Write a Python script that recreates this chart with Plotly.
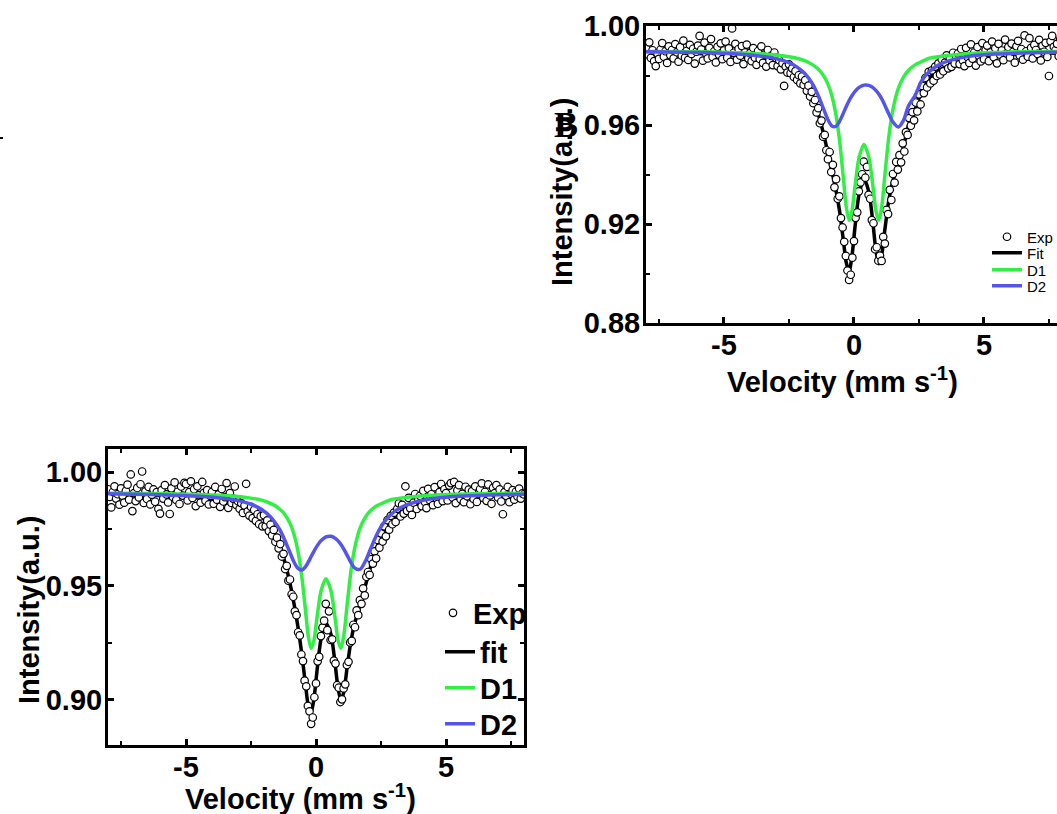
import plotly.graph_objects as go

# ---------------- data ----------------
# velocity channels (mm/s), one every 1/16 mm/s from -8 to 8
VELOCITY = [i / 16 - 8 for i in range(257)]

TOP_EXP = [
    0.9912, 0.9885, 0.9934, 0.9871, 0.9902, 0.9858, 0.9838, 0.9890, 0.9867, 0.9905, 0.9931, 0.9876, 0.9898, 0.9851, 0.9918, 0.9882,
    0.9903, 0.9869, 0.9927, 0.9894, 0.9856, 0.9915, 0.9880, 0.9941, 0.9872, 0.9899, 0.9863, 0.9924, 0.9887, 0.9908, 0.9848, 0.9896,
    0.9921, 0.9960, 0.9905, 0.9860, 0.9933, 0.9889, 0.9869, 0.9912, 0.9947, 0.9875, 0.9898, 0.9853, 0.9916, 0.9884, 0.9930, 0.9866,
    0.9901, 0.9937, 0.9872, 0.9910, 0.9855, 0.9990, 0.9892, 0.9928, 0.9864, 0.9907, 0.9880, 0.9919, 0.9846, 0.9893, 0.9925, 0.9869,
    0.9890, 0.9858, 0.9911, 0.9872, 0.9843, 0.9899, 0.9867, 0.9918, 0.9851, 0.9884, 0.9836, 0.9903, 0.9861, 0.9879, 0.9842, 0.9893,
    0.9871, 0.9838, 0.9862, 0.9825, 0.9849, 0.9758, 0.9836, 0.9812, 0.9845, 0.9809, 0.9829, 0.9794, 0.9818, 0.9782, 0.9801, 0.9768,
    0.9796, 0.9762, 0.9781, 0.9738, 0.9759, 0.9715, 0.9734, 0.9688, 0.9701, 0.9651, 0.9668, 0.9607, 0.9618, 0.9553, 0.9560, 0.9498,
    0.9462, 0.9491, 0.9410, 0.9439, 0.9348, 0.9381, 0.9302, 0.9312, 0.9224, 0.9186, 0.9128, 0.9071, 0.9012, 0.8974, 0.8995, 0.9064,
    0.9131, 0.9225, 0.9247, 0.9332, 0.9368, 0.9401, 0.9452, 0.9387, 0.9431, 0.9318, 0.9302, 0.9216, 0.9203, 0.9098, 0.9106, 0.9052,
    0.9072, 0.9051, 0.9148, 0.9121, 0.9257, 0.9240, 0.9338, 0.9297, 0.9402, 0.9367, 0.9451, 0.9420, 0.9478, 0.9449, 0.9526, 0.9493,
    0.9571, 0.9560, 0.9628, 0.9597, 0.9652, 0.9619, 0.9691, 0.9655, 0.9724, 0.9683, 0.9758, 0.9729, 0.9791, 0.9752, 0.9815, 0.9768,
    0.9821, 0.9779, 0.9836, 0.9798, 0.9849, 0.9804, 0.9866, 0.9817, 0.9852, 0.9881, 0.9829, 0.9870, 0.9835, 0.9892, 0.9848, 0.9874,
    0.9889, 0.9846, 0.9907, 0.9861, 0.9838, 0.9912, 0.9874, 0.9851, 0.9926, 0.9868, 0.9893, 0.9840, 0.9915, 0.9879, 0.9857, 0.9931,
    0.9866, 0.9902, 0.9921, 0.9858, 0.9893, 0.9937, 0.9874, 0.9910, 0.9849, 0.9928, 0.9884, 0.9901, 0.9862, 0.9945, 0.9889, 0.9915,
    0.9873, 0.9929, 0.9896, 0.9852, 0.9918, 0.9940, 0.9881, 0.9907, 0.9864, 0.9962, 0.9898, 0.9876, 0.9951, 0.9912, 0.9869, 0.9924,
    0.9903, 0.9887, 0.9944, 0.9861, 0.9920, 0.9896, 0.9932, 0.9875, 0.9798, 0.9938, 0.9960, 0.9916, 0.9902, 0.9928, 0.9878, 0.9947,
    0.9905,
]

BOT_EXP = [
    0.9925, 0.9891, 0.9845, 0.9913, 0.9938, 0.9884, 0.9903, 0.9857, 0.9929, 0.9896, 0.9866, 0.9918, 0.9945, 0.9879, 0.9990, 0.9829,
    0.9908, 0.9873, 0.9931, 0.9889, 0.9947, 1.0003, 0.9865, 0.9916, 0.9882, 0.9935, 0.9858, 0.9901, 0.9924, 0.9870, 0.9912, 0.9839,
    0.9818, 0.9921, 0.9884, 0.9943, 0.9902, 0.9867, 0.9816, 0.9929, 0.9891, 0.9955, 0.9878, 0.9914, 0.9860, 0.9937, 0.9897, 0.9953,
    0.9948, 0.9876, 0.9912, 0.9960, 0.9887, 0.9925, 0.9851, 0.9938, 0.9899, 0.9866, 0.9957, 0.9909, 0.9874, 0.9921, 0.9858, 0.9896,
    0.9913, 0.9861, 0.9935, 0.9879, 0.9902, 0.9847, 0.9926, 0.9871, 0.9890, 0.9952, 0.9843, 0.9908, 0.9865, 0.9884, 0.9937, 0.9856,
    0.9872, 0.9839, 0.9864, 0.9821, 0.9853, 0.9949, 0.9828, 0.9809, 0.9847, 0.9798, 0.9834, 0.9786, 0.9815, 0.9771, 0.9806, 0.9762,
    0.9811, 0.9762, 0.9788, 0.9741, 0.9769, 0.9722, 0.9746, 0.9694, 0.9712, 0.9665, 0.9684, 0.9629, 0.9641, 0.9574, 0.9588, 0.9523,
    0.9528, 0.9463, 0.9452, 0.9388, 0.9371, 0.9296, 0.9282, 0.9198, 0.9169, 0.9083, 0.9058, 0.8972, 0.8948, 0.8893, 0.8921, 0.9010,
    0.9071, 0.9168, 0.9188, 0.9279, 0.9316, 0.9347, 0.9421, 0.9305, 0.9388, 0.9262, 0.9265, 0.9171, 0.9158, 0.9063, 0.9052, 0.8989,
    0.9001, 0.9049, 0.9067, 0.9152, 0.9166, 0.9251, 0.9258, 0.9329, 0.9318, 0.9392, 0.9371, 0.9437, 0.9421, 0.9489, 0.9458, 0.9540,
    0.9561, 0.9548, 0.9617, 0.9598, 0.9652, 0.9621, 0.9702, 0.9668, 0.9731, 0.9695, 0.9762, 0.9718, 0.9789, 0.9747, 0.9808, 0.9771,
    0.9822, 0.9781, 0.9839, 0.9863, 0.9805, 0.9856, 0.9818, 0.9938, 0.9830, 0.9887, 0.9841, 0.9812, 0.9866, 0.9904, 0.9838, 0.9879,
    0.9896, 0.9851, 0.9918, 0.9869, 0.9842, 0.9927, 0.9878, 0.9903, 0.9855, 0.9934, 0.9886, 0.9861, 0.9912, 0.9948, 0.9873, 0.9925,
    0.9908, 0.9876, 0.9941, 0.9952, 0.9889, 0.9957, 0.9864, 0.9920, 0.9943, 0.9881, 0.9905, 0.9868, 0.9936, 0.9894, 0.9923, 0.9859,
    0.9917, 0.9882, 0.9938, 0.9869, 0.9904, 0.9926, 0.9951, 0.9887, 0.9913, 0.9874, 0.9946, 0.9898, 0.9861, 0.9931, 0.9908, 0.9943,
    0.9889, 0.9924, 0.9871, 0.9815, 0.9912, 0.9896, 0.9935, 0.9868, 0.9905, 0.9921, 0.9879, 0.9914, 0.9893, 0.9928, 0.9884, 0.9907,
    0.9902,
]

CURVE_V = [-8, -6, -4.5, -3.5, -3, -2.5, -2.2, -1.9, -1.6, -1.4, -1.2, -1.0, -0.85, -0.7, -0.55, -0.4, -0.3, -0.19,
           -0.08, 0.05, 0.2, 0.385, 0.57, 0.72, 0.85, 0.96, 1.07, 1.2, 1.35, 1.5, 1.7, 1.9, 2.1, 2.35, 2.6, 2.9,
           3.3, 3.8, 4.5, 5.5, 6.5, 8]

TOP_FIT = [0.9893, 0.9889, 0.9879, 0.9864, 0.9851, 0.9828, 0.9805, 0.9769, 0.9711, 0.9653, 0.9577, 0.9486, 0.9414, 0.9340,
           0.9250, 0.9127, 0.9046, 0.9008, 0.9068, 0.9198, 0.9323, 0.9382, 0.9331, 0.9213, 0.9089, 0.9039, 0.9077, 0.9187,
           0.9302, 0.9375, 0.9438, 0.9510, 0.9599, 0.9662, 0.9734, 0.9786, 0.9822, 0.9847, 0.9868, 0.9880, 0.9887, 0.9891]
TOP_D1 = [0.9897, 0.9896, 0.9892, 0.9887, 0.9883, 0.9876, 0.9870, 0.9860, 0.9844, 0.9828, 0.9804, 0.9765, 0.9718, 0.9646,
          0.9534, 0.9377, 0.9272, 0.9215, 0.9250, 0.9361, 0.9471, 0.9521, 0.9471, 0.9361, 0.9250, 0.9215, 0.9272, 0.9410,
          0.9560, 0.9663, 0.9746, 0.9792, 0.9821, 0.9843, 0.9856, 0.9870, 0.9877, 0.9883, 0.9889, 0.9893, 0.9896, 0.9897]
TOP_D2 = [0.9896, 0.9893, 0.9887, 0.9877, 0.9868, 0.9852, 0.9835, 0.9809, 0.9767, 0.9725, 0.9673, 0.9621, 0.9596, 0.9594,
          0.9616, 0.9650, 0.9674, 0.9698, 0.9718, 0.9737, 0.9752, 0.9761, 0.9760, 0.9752, 0.9739, 0.9724, 0.9705, 0.9677,
          0.9642, 0.9612, 0.9592, 0.9618, 0.9678, 0.9719, 0.9778, 0.9816, 0.9845, 0.9864, 0.9879, 0.9887, 0.9891, 0.9894]

BOT_FIT = [0.9902, 0.9897, 0.9886, 0.9871, 0.9858, 0.9835, 0.9813, 0.9780, 0.9727, 0.9676, 0.9605, 0.9511, 0.9424, 0.9324,
           0.9204, 0.9062, 0.8976, 0.8943, 0.9002, 0.9138, 0.9270, 0.9336, 0.9289, 0.9172, 0.9048, 0.8997, 0.9034, 0.9144,
           0.9261, 0.9340, 0.9419, 0.9501, 0.9584, 0.9671, 0.9733, 0.9786, 0.9824, 0.9851, 0.9873, 0.9887, 0.9895, 0.9900]
BOT_D1 = [0.9907, 0.9906, 0.9902, 0.9897, 0.9893, 0.9886, 0.9880, 0.9870, 0.9854, 0.9838, 0.9814, 0.9775, 0.9728, 0.9656,
          0.9544, 0.9387, 0.9282, 0.9225, 0.9260, 0.9371, 0.9481, 0.9531, 0.9481, 0.9371, 0.9260, 0.9225, 0.9282, 0.9420,
          0.9570, 0.9673, 0.9756, 0.9802, 0.9831, 0.9853, 0.9866, 0.9880, 0.9887, 0.9893, 0.9899, 0.9903, 0.9906, 0.9907]
BOT_D2 = [0.9905, 0.9901, 0.9894, 0.9884, 0.9875, 0.9859, 0.9843, 0.9820, 0.9783, 0.9748, 0.9701, 0.9646, 0.9606, 0.9578,
          0.9570, 0.9585, 0.9604, 0.9628, 0.9652, 0.9677, 0.9699, 0.9715, 0.9718, 0.9711, 0.9698, 0.9682, 0.9662, 0.9634,
          0.9601, 0.9577, 0.9573, 0.9609, 0.9663, 0.9728, 0.9777, 0.9816, 0.9847, 0.9868, 0.9884, 0.9894, 0.9899, 0.9903]

TOP_NAMES = ["Exp", "Fit", "D1", "D2"]
BOT_NAMES = ["Exp", "fit", "D1", "D2"]
X_TICKS = [-5, 0, 5]
X_TICKTEXT = ["-5", "0", "5"]
X_TITLE = "Velocity (mm s<sup>-1</sup>)"
Y_TITLE = "Intensity(a.u.)"
PANEL_LABEL = "B"

# ---------------- style ----------------
FONT = "Liberation Sans, Arial, sans-serif"
GREEN = "#33ee44"
BLUE = "#5555ee"
W, H = 1057, 814

px = lambda v: v / W
py = lambda v: 1 - v / H

fig = go.Figure()

def add_panel(xa, ya, exp, fit, d1, d2, names, legends):
    fig.add_trace(go.Scatter(x=CURVE_V, y=fit, mode="lines", name=names[1], legend=legends[1],
                             line=dict(color="black", width=3.5, shape="spline", smoothing=0.8),
                             xaxis=xa, yaxis=ya))
    fig.add_trace(go.Scatter(x=VELOCITY, y=exp, mode="markers", name=names[0], legend=legends[0],
                             marker=dict(symbol="circle", size=7.5, color="white",
                                         line=dict(color="black", width=1.2)),
                             xaxis=xa, yaxis=ya))
    fig.add_trace(go.Scatter(x=CURVE_V, y=d1, mode="lines", name=names[2], legend=legends[2],
                             line=dict(color=GREEN, width=3.5, shape="spline", smoothing=0.8),
                             xaxis=xa, yaxis=ya))
    fig.add_trace(go.Scatter(x=CURVE_V, y=d2, mode="lines", name=names[3], legend=legends[3],
                             line=dict(color=BLUE, width=3.5, shape="spline", smoothing=0.8),
                             xaxis=xa, yaxis=ya))

add_panel("x", "y", TOP_EXP, TOP_FIT, TOP_D1, TOP_D2, TOP_NAMES, ["legend", "legend2", "legend3", "legend4"])
add_panel("x2", "y2", BOT_EXP, BOT_FIT, BOT_D1, BOT_D2, BOT_NAMES, ["legend5", "legend6", "legend7", "legend8"])

tickfont = dict(family=FONT, size=29, color="black", weight="bold")
minor_style = dict(ticks="inside", ticklen=4, tickwidth=2, tickcolor="black")

def axis(**kw):
    base = dict(showline=True, linewidth=3, linecolor="black", ticks="inside", ticklen=6, tickwidth=2.5,
                tickcolor="black", showgrid=False, zeroline=False, tickfont=tickfont, fixedrange=True,
                automargin=False)
    base.update(kw)
    return base

def xaxis(**kw):
    return axis(tickmode="array", tickvals=X_TICKS, ticktext=X_TICKTEXT, mirror="ticks",
                ticklabelstandoff=-6, minor=dict(dtick=2.5, tick0=0, **minor_style), **kw)

def leg(x, y, size, weight="normal"):
    return dict(x=px(x), y=py(y), xanchor="left", yanchor="middle", bgcolor="rgba(0,0,0,0)",
                borderwidth=0, itemwidth=30,
                font=dict(family=FONT, size=size, color="black", weight=weight))

fig.update_layout(
    width=W, height=H, margin=dict(l=0, r=0, t=0, b=0, autoexpand=False),
    paper_bgcolor="white", plot_bgcolor="white", showlegend=True,
    xaxis=xaxis(domain=[px(646), 1.0], range=[-8, 7.81], anchor="y"),
    yaxis=axis(domain=[py(323), py(26)], range=[0.88, 1.0], anchor="x", tickmode="linear", tick0=0.88, dtick=0.04,
               tickformat=".2f", mirror=False, ticklabelstandoff=-3,
               minor=dict(dtick=0.02, tick0=0.88, **minor_style)),
    xaxis2=xaxis(domain=[px(108), px(524)], range=[-8, 8], anchor="y2"),
    yaxis2=axis(domain=[py(745), py(449)], range=[0.880, 1.0102], anchor="x2", tickmode="linear", tick0=0.9,
                dtick=0.05, tickformat=".2f", mirror="ticks", ticklabelstandoff=-3,
                minor=dict(dtick=0.025, tick0=0.9, **minor_style)),
    legend=leg(987, 237, 15), legend2=leg(987, 253, 15), legend3=leg(987, 270, 15), legend4=leg(987, 286, 15),
    legend5=leg(433, 613, 29, "bold"), legend6=leg(440, 652, 29, "bold"),
    legend7=leg(440, 688, 29, "bold"), legend8=leg(440, 724, 29, "bold"),
)

title_font = dict(family=FONT, size=29, color="black", weight="bold")
fig.add_annotation(text=X_TITLE, x=px(842), y=py(380), xref="paper", yref="paper", showarrow=False,
                   xanchor="center", yanchor="middle", font=title_font)
fig.add_annotation(text=Y_TITLE, x=px(562), y=py(192), xref="paper", yref="paper", showarrow=False,
                   xanchor="center", yanchor="middle", textangle=-90, font=title_font)
fig.add_annotation(text=PANEL_LABEL, x=px(566), y=py(125), xref="paper", yref="paper", showarrow=False,
                   xanchor="center", yanchor="middle",
                   font=dict(family="Liberation Serif, Times New Roman, serif", size=36, color="black", weight="bold"))
fig.add_annotation(text=X_TITLE, x=px(300), y=py(797), xref="paper", yref="paper", showarrow=False,
                   xanchor="center", yanchor="middle", font=title_font)
fig.add_annotation(text=Y_TITLE, x=px(29), y=py(610), xref="paper", yref="paper", showarrow=False,
                   xanchor="center", yanchor="middle", textangle=-90, font=title_font)

# small stray mark at the left edge of the page
fig.add_shape(type="line", xref="paper", yref="paper", x0=0, x1=px(3), y0=py(138), y1=py(138),
              line=dict(color="black", width=2))

fig.write_html("out.html")
